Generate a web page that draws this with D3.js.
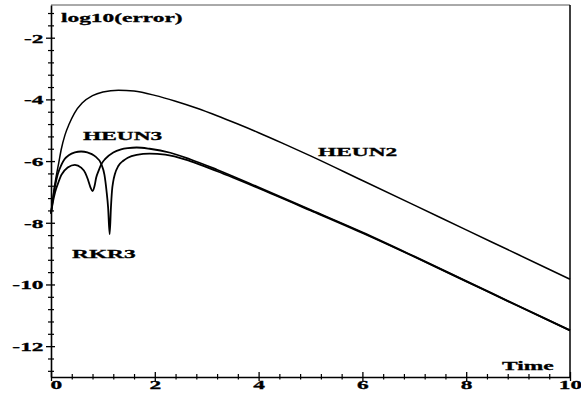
<!DOCTYPE html>
<html>
<head>
<meta charset="utf-8">
<script src="https://cdn.jsdelivr.net/npm/d3@7"></script>
<style>
  body { margin: 0; background: #fff; }
  svg { display: block; }
  text { font-family: 'Liberation Serif', 'Times New Roman', serif; font-weight: bold; font-size: 13px; fill: #000; stroke: #000; stroke-width: 0.3px; }
</style>
</head>
<body>
<svg width="581" height="397"></svg>
<script>
// values (time, log10 of error)
const heun2Time = [0, 0.03, 0.06, 0.1, 0.15, 0.2, 0.27, 0.35, 0.45, 0.6, 0.8, 1.0, 1.3, 1.6, 2.0, 2.4, 2.8, 3.2, 3.6, 4, 4.5, 5, 6, 7, 8, 9, 10];
const heun2Err = [-7.7, -7.3, -6.9, -6.5, -6.05, -5.6, -5.15, -4.8, -4.45, -4.12, -3.88, -3.76, -3.7, -3.73, -3.87, -4.06, -4.28, -4.53, -4.8, -5.08, -5.45, -5.83, -6.63, -7.43, -8.23, -9.03, -9.83];

const heun3Time = [0, 0.04, 0.08, 0.13, 0.2, 0.33, 0.46, 0.58, 0.66, 0.71, 0.76, 0.8, 0.84, 0.87, 0.92, 0.97, 1.05, 1.2, 1.35, 1.48, 1.65, 1.9, 2.3, 2.68, 3.2, 4, 5, 6, 7, 8, 9, 10];
const heun3Err = [-7.7, -7.3, -7.0, -6.75, -6.45, -6.2, -6.12, -6.21, -6.38, -6.59, -6.85, -6.97, -6.8, -6.54, -6.3, -6.1, -5.92, -5.72, -5.62, -5.58, -5.56, -5.6, -5.73, -5.94, -6.28, -6.85, -7.58, -8.31, -9.09, -9.89, -10.69, -11.49];

const rkr3Time = [0, 0.04, 0.08, 0.13, 0.2, 0.26, 0.35, 0.46, 0.58, 0.7, 0.84, 0.97, 1.03, 1.07, 1.1, 1.13, 1.155, 1.175, 1.2, 1.23, 1.3, 1.4, 1.48, 1.65, 1.9, 2.2, 2.68, 3.2, 4, 5, 6, 7, 8, 9, 10];
const rkr3Err = [-7.7, -7.2, -6.8, -6.43, -6.12, -5.94, -5.8, -5.72, -5.69, -5.72, -5.83, -6.1, -6.45, -6.97, -7.5, -8.37, -7.5, -6.97, -6.65, -6.43, -6.15, -5.98, -5.89, -5.8, -5.76, -5.79, -6.0, -6.33, -6.88, -7.6, -8.33, -9.1, -9.9, -10.7, -11.49];

const xTicks = [0, 2, 4, 6, 8, 10];
const yTicks = [-12, -10, -8, -6, -4, -2];

const stretch = 1.8; // the original picture is squeezed wide

const svg = d3.select('svg');

const x = d3.scaleLinear().domain([0, 10]).range([51, 570]);
const y = d3.scaleLinear().domain([-13, -0.94]).range([377, 5]);

const xMinor = d3.range(0.4, 10, 0.4).filter((d) => Math.abs(d / 2 - Math.round(d / 2)) > 0.01);
const yMinor = d3.range(-12.8, -1, 0.4).filter((d) => Math.abs(d / 2 - Math.round(d / 2)) > 0.01);

// frame top / right
svg.append('line')
  .attr('x1', x(0)).attr('x2', x(10))
  .attr('y1', y.range()[1]).attr('y2', y.range()[1])
  .attr('stroke', '#555').attr('stroke-width', 1);
svg.append('line')
  .attr('x1', x(10)).attr('x2', x(10))
  .attr('y1', y.range()[1]).attr('y2', y.range()[0])
  .attr('stroke', '#000').attr('stroke-width', 1.5);

// minor ticks
svg.append('g')
  .attr('transform', `translate(0, ${y(-13)})`)
  .call(d3.axisBottom(x).tickValues(xMinor).tickSizeOuter(0).tickFormat(''))
  .call((g) => g.select('.domain').remove())
  .call((g) => g.selectAll('line').attr('y1', -3).attr('y2', 2.5).attr('stroke-width', 1.2));

svg.append('g')
  .attr('transform', `translate(${x(0)}, 0)`)
  .call(d3.axisLeft(y).tickValues(yMinor).tickSizeOuter(0).tickFormat(''))
  .call((g) => g.select('.domain').remove())
  .call((g) => g.selectAll('line').attr('x1', -3).attr('x2', 3).attr('stroke-width', 1.2));

// major axes
svg.append('g')
  .attr('transform', `translate(0, ${y(-13)})`)
  .call(d3.axisBottom(x).tickValues(xTicks).tickSizeOuter(0))
  .call((g) => g.select('.domain').attr('stroke-width', 1.6))
  .call((g) => g.selectAll('line').attr('y1', -5).attr('y2', 4).attr('stroke-width', 1.3))
  .call((g) => g.selectAll('text')
    .attr('y', null).attr('dy', null)
    .attr('text-anchor', (d) => (d === 0 ? 'start' : 'middle'))
    .attr('transform', (d) => `translate(${d === 0 ? -1 : 0}, 12) scale(${stretch}, 1)`));

svg.append('g')
  .attr('transform', `translate(${x(0)}, 0)`)
  .call(d3.axisLeft(y).tickValues(yTicks).tickSizeOuter(0).tickFormat((d) => String(d).replace('\u2212', '-')))
  .call((g) => g.select('.domain').attr('stroke-width', 1.6))
  .call((g) => g.selectAll('line').attr('x1', -5).attr('x2', 4).attr('stroke-width', 1.3))
  .call((g) => g.selectAll('text')
    .attr('x', null).attr('dy', null)
    .attr('text-anchor', 'end')
    .attr('transform', `translate(-7.5, 4.5) scale(${stretch}, 1)`));

svg.selectAll('.tick text')
  .style('font-family', "'Liberation Serif', serif")
  .style('font-weight', 'bold')
  .style('font-size', '13px')
  .attr('fill', '#000');

// curves
const series = [
  { name: 'HEUN2', t: heun2Time, v: heun2Err, w: 1.5 },
  { name: 'HEUN3', t: heun3Time, v: heun3Err, w: 1.8 },
  { name: 'RKR3', t: rkr3Time, v: rkr3Err, w: 1.8 }
];

const line = d3.line()
  .x((d) => x(d[0]))
  .y((d) => y(d[1]))
  .curve(d3.curveMonotoneX);

svg.append('g')
  .selectAll('path')
  .data(series)
  .enter()
  .append('path')
  .attr('d', (s) => line(s.t.map((t, i) => [t, s.v[i]])))
  .attr('fill', 'none')
  .attr('stroke', '#000')
  .attr('stroke-width', (s) => s.w);

// labels
const labels = [
  { text: 'log10(error)', px: 61, py: 22 },
  { text: 'HEUN3', px: 83, py: 140 },
  { text: 'HEUN2', px: 318, py: 156 },
  { text: 'RKR3', px: 72, py: 258 },
  { text: 'Time', px: 502, py: 370 }
];

svg.append('g')
  .selectAll('text')
  .data(labels)
  .enter()
  .append('text')
  .attr('transform', (d) => `translate(${d.px}, ${d.py}) scale(${stretch}, 1)`)
  .text((d) => d.text);
</script>
</body>
</html>
